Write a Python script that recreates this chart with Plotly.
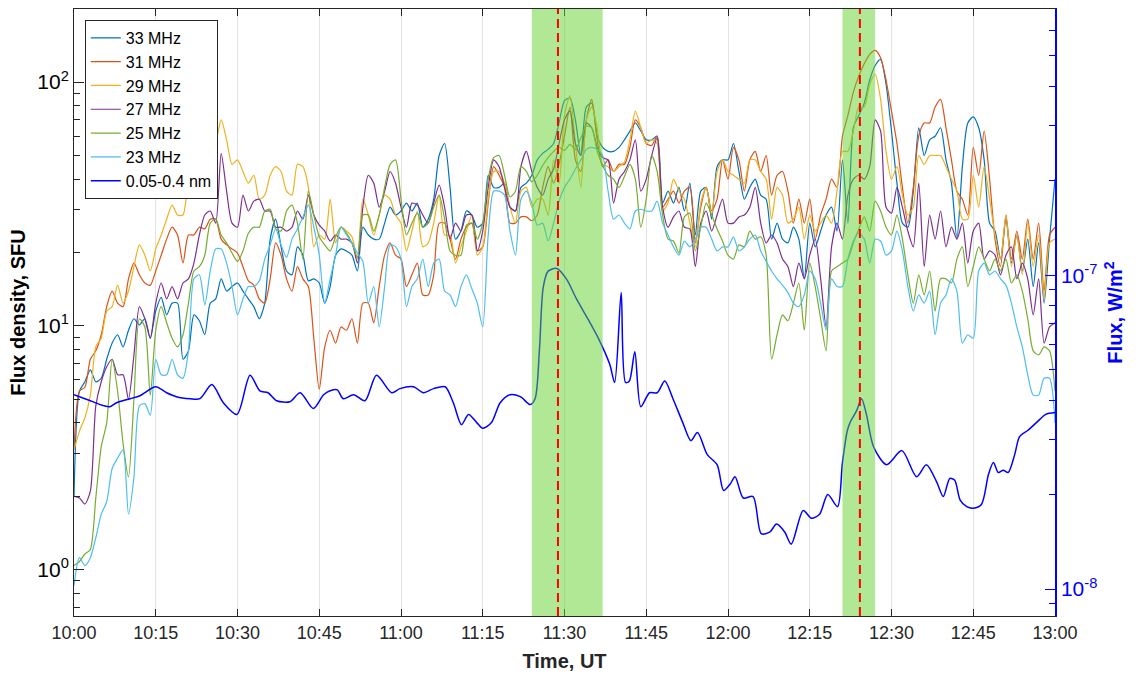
import pandas as pd
import plotly.graph_objects as go

# ---------------- data ----------------
minutes = list(range(0, 181))  # minutes after 10:00 UT

s33 = [2.0, 5.4, 5.9, 6.6, 5.9, 6.1, 7.3, 8.5, 9.2, 8.2,
       9.6, 10.7, 10.1, 10.7, 8.9, 11.5, 13.1, 11.1, 12.4, 12.4,
       7.3, 7.9, 11.1, 10.5, 9.2, 12.4, 12.9, 15.6, 13.9, 14.5,
       15.0, 13.9, 12.9, 12.0, 10.7, 12.4, 22.7, 27.4, 21.1, 16.8,
       16.2, 21.1, 19.5, 15.3, 15.6, 15.0, 12.4, 14.5, 19.5, 20.7,
       20.3, 19.5, 16.8, 25.4, 23.6, 22.7, 22.7, 26.4, 30.7, 28.5,
       29.6, 31.9, 29.6, 31.9, 25.4, 27.4, 33.1, 50, 56, 37,
       22.7, 24.5, 29.6, 28.5, 25.4, 26.4, 41.5, 37, 37, 38.5,
       30.7, 29.6, 37, 38.5, 41.5, 48, 51, 53, 56, 68,
       84, 86, 70, 50, 79, 82, 60, 54, 52, 52,
       54, 58, 63, 68, 63, 58, 58, 60, 31.9, 35.7,
       31.9, 37, 29.6, 38.5, 23.6, 35.7, 37, 27.4, 45, 48,
       48, 56, 43, 33.1, 37, 40, 34.4, 33.1, 22.7, 26.4,
       22.7, 21.9, 25.4, 22.7, 15.6, 26.4, 21.1, 24.5, 28.5, 30.7,
       24.5, 48, 26.4, 65, 73, 82, 102, 117, 124, 98,
       63, 38.5, 26.4, 25.4, 35.7, 65, 50, 58, 60, 65,
       48, 38.5, 22.7, 45, 68, 72, 65, 48, 26.4, 24.5,
       18.8, 27.4, 18.1, 23.6, 16.8, 22.7, 14.5, 21.9, 12.4, 22.7,
       40]

s31 = [3.1, 5.4, 5.6, 7.3, 7.9, 9.2, 12.0, 13.9, 12.4, 12.0,
       15.6, 18.1, 16.2, 15.0, 14.7, 16.8, 19.5, 22.7, 25.4, 23.6,
       18.1, 23.6, 23.6, 25.4, 25.0, 27.4, 27.4, 22.7, 21.5, 20.7,
       19.9, 17.5, 15.3, 14.7, 12.9, 12.4, 15.6, 21.9, 19.5, 15.6,
       13.9, 17.5, 15.6, 14.5, 8.9, 5.5, 8.2, 9.6, 8.5, 9.9,
       9.6, 10.7, 8.5, 12.4, 12.4, 10.3, 14.5, 19.5, 21.9, 19.5,
       18.8, 14.5, 16.2, 18.1, 13.4, 13.4, 16.2, 26.4, 26.4, 22.7,
       18.8, 22.7, 25.4, 26.4, 20.3, 21.1, 31.9, 45, 41.5, 37,
       26.4, 26.4, 28, 28, 27, 28.5, 37, 45, 38.5, 46,
       60, 79, 48, 43, 70, 85, 58, 45, 48, 43,
       46, 46, 54, 70, 65, 56, 55, 60, 30.7, 33.1,
       35.7, 31.9, 35.7, 37, 21.9, 30.7, 37, 29.6, 33.1, 48,
       40, 54, 48, 35.7, 48, 52, 43, 50, 34.4, 41.5,
       43, 35.7, 26.4, 33.1, 26.4, 33.1, 22.7, 28.5, 33.1, 40,
       37, 60, 73, 91, 106, 119, 130, 135, 126, 102,
       76, 56, 37, 26.4, 37, 60, 68, 68, 79, 85,
       65, 48, 35.7, 33.1, 28.5, 54, 41.5, 63, 40, 22.7,
       17.5, 28.5, 18.8, 24.5, 18.8, 27.4, 18.8, 26.4, 13.9, 23.6,
       25.4]

s29 = [3.1, 3.7, 4.2, 5.2, 8.2, 8.9, 11.5, 12.0, 14.7, 12.4,
       13.9, 17.5, 21.5, 19.5, 16.8, 20.7, 23.6, 27.4, 31.3, 28.5,
       28.5, 37, 35.7, 41.5, 38.5, 54, 57, 70, 58, 46,
       48, 43, 38.5, 41.5, 33.1, 34.4, 41.5, 45, 43, 35.7,
       34.4, 46, 45, 37, 21.1, 23.6, 22.7, 33.1, 21.9, 25.4,
       24.5, 23.2, 18.8, 33.1, 28.5, 23.6, 28.5, 34.4, 33.1, 28.5,
       26.4, 20.3, 24.5, 29.6, 21.1, 21.9, 26.4, 34.4, 23.6, 23.6,
       18.1, 21.1, 24.5, 28.5, 19.5, 21.1, 33.1, 43, 43, 38.5,
       30.7, 26.4, 35.7, 37, 30.7, 33.1, 33.1, 28.5, 48, 38.5,
       73, 88, 56, 37, 70, 79, 65, 46, 45, 43,
       45, 47, 58, 76, 65, 56, 58, 56, 29.6, 31.9,
       40, 35.7, 33.1, 26.4, 21.1, 31.9, 37, 28.5, 43, 48,
       43, 41.5, 40, 38.5, 48, 48, 43, 40, 27.4, 37,
       34.4, 26.4, 27.4, 30.7, 22.7, 28.5, 24.5, 26.4, 28.5, 26.4,
       35.7, 52, 52, 63, 79, 79, 98, 108, 85, 52,
       40, 45, 34.4, 28.5, 30.7, 50, 46, 50, 50, 50,
       45, 40, 35.7, 27.4, 27.4, 41.5, 30.7, 45, 33.1, 23.6,
       18.8, 28.5, 17.5, 23.6, 16.2, 26.4, 17.5, 23.6, 12.9, 21.9,
       22.7]

s27 = [2.0, 1.97, 1.86, 2.1, 4.7, 5.9, 6.8, 7.3, 6.3, 6.3,
       5.0, 7.6, 12.0, 10.7, 8.9, 12.4, 15.0, 12.9, 14.5, 12.9,
       15.0, 15.6, 18.1, 23.6, 28.5, 29.6, 26.4, 51, 35.7, 26.4,
       25.4, 34.4, 29.6, 32.5, 33.1, 29.6, 29.6, 25.4, 25.4, 24.5,
       25.4, 29.6, 27.4, 34.4, 28.5, 25.9, 24.5, 22.3, 23.6, 22.7,
       22.7, 21.9, 18.1, 30.7, 41.5, 38.5, 30.7, 35.7, 43, 38.5,
       30.7, 25.4, 31.9, 31.3, 28.5, 26.4, 31.9, 37.8, 30.7, 22.7,
       26.4, 24.5, 28.5, 28.5, 20.3, 24.5, 37, 48, 45, 37,
       30.7, 29.6, 45, 52, 43, 37, 34.4, 40, 44, 56,
       70, 76, 56, 50, 68, 65, 54, 49, 48, 31.9,
       40, 43, 48, 58, 35.7, 40, 50, 59, 30.7, 25.4,
       28, 29.6, 25.4, 25, 17.5, 26.4, 29.6, 24.5, 28.5, 33.1,
       26.4, 26.4, 28, 28.5, 30.7, 37, 26.4, 21.9, 23.6, 21.9,
       18.8, 17.5, 14.5, 18.1, 15.6, 19.5, 22.7, 15.6, 9.9, 21.1,
       26.4, 22.7, 34.4, 40, 41.5, 40, 45, 70, 63, 30.7,
       29, 37, 30.7, 24.5, 21.1, 38.5, 17.5, 28.5, 22.7, 29.6,
       21.1, 25.4, 22.7, 26.4, 18.1, 24.5, 26.4, 18.8, 20.3, 19.5,
       16.2, 19.5, 21.1, 15.6, 18.1, 15.6, 11.1, 15.6, 8.5, 9.9,
       10.3]

s25 = [1.04, 1.08, 1.16, 1.21, 1.97, 3.2, 4.0, 7.3, 5.4, 3.3,
       2.4, 5.0, 10.7, 9.9, 5.2, 9.6, 12.0, 10.3, 8.9, 8.2,
       9.2, 12.4, 16.8, 17.5, 19.5, 26.4, 27.4, 23.6, 21.9, 19.9,
       18.4, 20.3, 24, 25.4, 25.4, 29.6, 30.1, 25, 24.5, 29.6,
       31.3, 26.4, 18.8, 35.7, 28.5, 23.2, 21.5, 20.3, 23.2, 25.4,
       24, 21.9, 19.1, 28.5, 28.5, 24.5, 28.5, 37, 46, 48,
       33.1, 23.6, 26.4, 29, 25.4, 26.4, 30.7, 34.4, 27.4, 20.3,
       19.5, 19.5, 25.9, 26.4, 22.7, 26.4, 40, 49, 50, 41.5,
       33.8, 35.7, 45, 43, 39, 41.5, 45.5, 49, 52, 54,
       52.5, 55.5, 53, 59, 66, 65, 52, 45.5, 41.5, 40,
       37, 41, 46, 40, 25.4, 33.1, 50, 43, 28.5, 22.7,
       22.3, 19.9, 28, 29, 20.3, 25.4, 31.9, 28.5, 25, 22.3,
       19.5, 18.8, 21.5, 21.1, 24.5, 22.7, 23.2, 19.5, 7.3, 9.2,
       11.1, 10.5, 12.4, 15.0, 9.6, 18.1, 14.5, 10.7, 7.9, 16.8,
       17.5, 18.1, 18.8, 21.9, 25, 28, 24.5, 32.5, 29.6, 25.4,
       23.6, 28.5, 22.7, 16.2, 12.4, 16.2, 13.4, 16.8, 11.5, 15.6,
       15.6, 15.0, 18.8, 21.1, 14.5, 17.5, 21.1, 18.8, 16.8, 18.8,
       16.8, 18.8, 15.0, 16.2, 13.9, 10.7, 7.9, 7.6, 8.2, 7.9,
       5.4]

s23 = [0.86, 1.12, 1.04, 1.12, 1.35, 1.69, 1.9, 2.6, 2.87, 3.1,
       1.69, 2.4, 4.7, 4.8, 4.3, 7.3, 6.3, 6.3, 7.3, 6.3,
       6.1, 7.9, 15.6, 16.2, 12.2, 16.8, 20.7, 20.7, 18.1, 14.5,
       11.1, 12.9, 14.5, 14.5, 15.3, 18.8, 21.5, 25, 21.5, 19.1,
       22.7, 25, 28, 31.3, 25.4, 19.5, 12.4, 15.6, 19.5, 25.4,
       23.6, 21.9, 19.9, 18.4, 12.4, 14.5, 9.9, 14.5, 21.5, 21.1,
       18.8, 12.0, 14.5, 15.6, 18.8, 14.5, 18.1, 18.8, 13.9, 13.4,
       12.0, 14.5, 16.2, 14.2, 12.4, 9.9, 23.6, 35.7, 35.7, 34.4,
       24.5, 19.5, 33.1, 35.7, 31.9, 25.9, 26.4, 22.3, 26.4, 32.5,
       37, 40, 44, 48, 53, 54, 53, 50, 35.7, 27.4,
       28.5, 26.4, 25, 29.6, 30.1, 29.6, 29.6, 32.5, 26.4, 23.6,
       21.1, 19.5, 22.3, 21.1, 22.7, 25.4, 25.4, 22.7, 20.3, 21.1,
       21.1, 23.2, 20.3, 21.1, 22.7, 23.6, 20.3, 18.4, 16.8, 15.6,
       14.7, 13.7, 12.4, 12.0, 13.4, 16.8, 15.6, 12.4, 9.6, 15.6,
       14.5, 14.5, 18.8, 22.3, 24, 22.7, 18.1, 22.7, 22.3, 19.5,
       20.3, 24.5, 20.3, 14.5, 11.5, 13.4, 12.4, 13.9, 9.2, 12.4,
       13.4, 15.6, 13.9, 8.5, 9.2, 8.9, 16.8, 18.1, 16.2, 16.8,
       15.6, 14.7, 12.4, 9.9, 8.2, 6.3, 5.2, 5.2, 6.1, 6.1,
       4.0]

xray_min = [0, 3, 5.4, 6.6, 7.8, 10.3, 12.1, 15, 17, 18.8,
            21.3, 23.1, 25.3, 27.4, 29.9, 32.3, 34.1, 35.6, 37.2, 39.6,
            41.5, 43.9, 45.8, 47, 48.3, 49.4, 51.3, 53.4, 55.5, 58.3,
            59.8, 62.3, 64.1, 66, 68.1, 69.6, 71.1, 72.4, 73.9, 75,
            76.6, 78.2, 80, 81.9, 83.7, 84.6, 85.4, 86.1, 87, 88.6,
            90.4, 92.2, 94.4, 96.2, 98.3, 99.2, 100.4, 101.2, 101.9, 102.9,
            104, 105.6, 107, 108.4, 109.9, 111.7, 113.2, 114.4, 116.2, 118,
            119.2, 120.4, 121.3, 122.8, 124.6, 126.1, 127.7, 128.9, 130.4, 131.6,
            133.8, 135.3, 136.8, 138.3, 140.1, 141, 141.9, 142.4, 143.6, 144.5,
            145.4, 146.7, 149.1, 151.9, 154.6, 156.4, 158.3, 159.5, 160.7, 161.6,
            162.6, 163.8, 165, 166.5, 167.8, 168.7, 169.6, 170.5, 171.4, 172.6,
            173.5, 175, 176.6, 178.3, 180]
xray = [4.16e-8, 3.98e-8, 3.84e-8, 3.81e-8, 3.92e-8, 4.04e-8, 4.13e-8, 4.41e-8, 4.22e-8, 4.10e-8,
        4.04e-8, 4.04e-8, 4.48e-8, 3.92e-8, 3.60e-8, 4.80e-8, 4.28e-8, 4.22e-8, 3.98e-8, 3.95e-8,
        4.22e-8, 3.76e-8, 4.16e-8, 4.28e-8, 4.31e-8, 4.04e-8, 4.16e-8, 3.98e-8, 4.80e-8, 4.22e-8,
        4.35e-8, 4.41e-8, 4.22e-8, 4.35e-8, 4.41e-8, 3.92e-8, 3.34e-8, 3.60e-8, 3.39e-8, 3.25e-8,
        3.39e-8, 3.92e-8, 4.16e-8, 4.10e-8, 3.87e-8, 4.04e-8, 5.78e-8, 9.16e-8, 1.03e-7, 1.05e-7,
        9.7e-8, 8.4e-8, 7.2e-8, 6.3e-8, 5.2e-8, 4.55e-8, 8.8e-8, 4.55e-8, 4.6e-8, 5.7e-8,
        3.81e-8, 4.22e-8, 4.22e-8, 4.6e-8, 4.04e-8, 3.39e-8, 2.97e-8, 3.15e-8, 2.68e-8, 2.49e-8,
        2.06e-8, 2.16e-8, 2.28e-8, 1.95e-8, 1.97e-8, 1.50e-8, 1.52e-8, 1.61e-8, 1.52e-8, 1.39e-8,
        1.78e-8, 1.68e-8, 1.73e-8, 2.00e-8, 1.83e-8, 2.53e-8, 3.20e-8, 3.39e-8, 3.70e-8, 4.04e-8,
        3.60e-8, 2.84e-8, 2.49e-8, 2.76e-8, 2.28e-8, 2.49e-8, 2.19e-8, 1.97e-8, 2.25e-8, 2.22e-8,
        1.92e-8, 1.83e-8, 1.81e-8, 1.86e-8, 2.32e-8, 2.53e-8, 2.35e-8, 2.39e-8, 2.35e-8, 2.68e-8,
        3.06e-8, 3.20e-8, 3.39e-8, 3.60e-8, 3.65e-8]

radio_names = ["33 MHz", "31 MHz", "29 MHz", "27 MHz", "25 MHz", "23 MHz"]
radio_series = [s33, s31, s29, s27, s25, s23]
xray_name = "0.05-0.4 nm"

band_start_min = [84, 141]
band_end_min = [97, 147]
marker_min = [88.8, 144.2]

x_tick_labels = ["10:00", "10:15", "10:30", "10:45", "11:00", "11:15", "11:30",
                 "11:45", "12:00", "12:15", "12:30", "12:45", "13:00"]

# ---------------- styling ----------------
radio_colors = ["#0072BD", "#D95319", "#EDB120", "#7E2F8E", "#77AC30", "#4DBEEE"]
xray_color = "#0000FF"
axis_color = "#262626"
FONT = "Liberation Sans, Arial, Helvetica, sans-serif"

t0 = pd.Timestamp("2021-01-01 10:00:00")


def to_time(mins):
    return [t0 + pd.Timedelta(minutes=m) for m in mins]


fig = go.Figure()
for name, vals, col in zip(radio_names, radio_series, radio_colors):
    fig.add_trace(go.Scatter(
        x=to_time(minutes), y=vals, name=name, mode="lines",
        line=dict(color=col, width=1.2, shape="spline", smoothing=0.7),
        yaxis="y"))

fig.add_trace(go.Scatter(
    x=to_time(xray_min), y=xray, name=xray_name, mode="lines",
    line=dict(color=xray_color, width=1.5, shape="spline", smoothing=0.8),
    yaxis="y2"))

shapes = []
for a, b in zip(band_start_min, band_end_min):
    shapes.append(dict(type="rect", xref="x", yref="paper",
                       x0=t0 + pd.Timedelta(minutes=a), x1=t0 + pd.Timedelta(minutes=b),
                       y0=0, y1=1, fillcolor="rgb(97,209,45)", opacity=0.5,
                       line=dict(width=0), layer="above"))
for m in marker_min:
    tm = t0 + pd.Timedelta(minutes=m)
    shapes.append(dict(type="line", xref="x", yref="paper", x0=tm, x1=tm, y0=0, y1=1,
                       line=dict(color="#FF0000", width=2, dash="9px,5px"), layer="above"))

tickvals_x = [t0 + pd.Timedelta(minutes=15 * i) for i in range(len(x_tick_labels))]

left_minor = [0.7, 0.8, 0.9, 2, 3, 4, 5, 6, 7, 8, 9, 20, 30, 40, 50, 60, 70, 80, 90, 200]
right_minor = [9e-9, 2e-8, 3e-8, 4e-8, 5e-8, 6e-8, 7e-8, 8e-8, 9e-8,
               2e-7, 3e-7, 4e-7, 5e-7, 6e-7, 7e-7]

fig.update_layout(
    width=1138, height=677,
    margin=dict(l=74, r=83, t=8, b=60),
    plot_bgcolor="white", paper_bgcolor="white",
    font=dict(family=FONT, size=16, color=axis_color),
    showlegend=True,
    legend=dict(x=0.011, y=0.982, xanchor="left", yanchor="top",
                bgcolor="white", bordercolor=axis_color, borderwidth=1,
                font=dict(family=FONT, size=16, color="#000000"),
                tracegroupgap=0),
    shapes=shapes,
    xaxis=dict(
        type="date",
        range=[t0, t0 + pd.Timedelta(minutes=180)],
        tickmode="array", tickvals=tickvals_x, ticktext=x_tick_labels,
        ticks="inside", ticklen=7, tickcolor=axis_color,
        showline=True, linecolor=axis_color, linewidth=1, mirror="ticks",
        showgrid=True, gridcolor="#e3e3e3", gridwidth=1, zeroline=False,
        tickfont=dict(family=FONT, size=18, color=axis_color),
        title=dict(text="<b>Time, UT</b>", standoff=12,
                   font=dict(family=FONT, size=20, color=axis_color)),
    ),
    yaxis=dict(
        type="log", range=[-0.19, 2.30],
        tickmode="array", tickvals=[1, 10, 100],
        ticktext=["10<sup>0</sup>", "10<sup>1</sup>", "10<sup>2</sup>"],
        ticks="inside", ticklen=10, tickcolor=axis_color,
        minor=dict(tickmode="array", tickvals=left_minor, ticks="inside",
                   ticklen=6, tickcolor=axis_color, showgrid=False),
        showline=True, linecolor=axis_color, linewidth=1, mirror=False,
        showgrid=False, zeroline=False,
        tickfont=dict(family=FONT, size=21, color="#000000"),
        title=dict(text="<b>Flux density, SFU</b>", standoff=6,
                   font=dict(family=FONT, size=20, color="#000000")),
    ),
    yaxis2=dict(
        type="log", range=[-8.086, -6.152], overlaying="y", side="right",
        tickmode="array", tickvals=[1e-8, 1e-7],
        ticktext=["10<sup>-8</sup>", "10<sup>-7</sup>"],
        ticks="inside", ticklen=10, tickcolor=xray_color,
        minor=dict(tickmode="array", tickvals=right_minor, ticks="inside",
                   ticklen=6, tickcolor=xray_color, showgrid=False),
        showline=True, linecolor=xray_color, linewidth=1.5,
        showgrid=False, zeroline=False,
        tickfont=dict(family=FONT, size=21, color=xray_color),
        title=dict(text="<b>Flux, W/m<sup>2</sup></b>", standoff=12,
                   font=dict(family=FONT, size=20, color=xray_color)),
    ),
)

fig.write_html("out.html")
